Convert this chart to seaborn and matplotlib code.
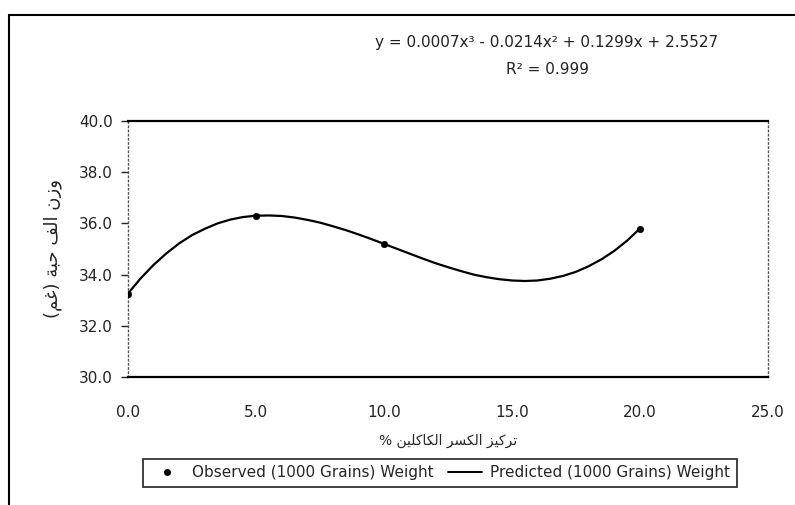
import matplotlib
matplotlib.use("Agg")
import matplotlib.pyplot as plt
import seaborn as sns
import pandas as pd
from matplotlib.lines import Line2D

# ---- data ----
x_obs = [0, 5, 10, 20]
y_obs = [33.26, 36.30, 35.20, 35.80]
x_pred = [0, 0.5, 1, 1.5, 2, 2.5, 3, 3.5, 4, 4.5, 5, 5.5, 6, 6.5, 7, 7.5, 8, 8.5, 9, 9.5,
          10, 10.5, 11, 11.5, 12, 12.5, 13, 13.5, 14, 14.5, 15, 15.5, 16, 16.5, 17, 17.5,
          18, 18.5, 19, 19.5, 20]
y_pred = [33.26, 33.86, 34.38, 34.83, 35.22, 35.54, 35.79, 36.00, 36.15, 36.25, 36.30, 36.31,
          36.29, 36.23, 36.14, 36.03, 35.89, 35.74, 35.57, 35.39, 35.20, 35.01, 34.82, 34.63,
          34.45, 34.29, 34.14, 34.00, 33.90, 33.82, 33.77, 33.75, 33.77, 33.84, 33.95, 34.11,
          34.33, 34.60, 34.93, 35.33, 35.80]
x_ticks = [0, 5, 10, 15, 20, 25]
y_ticks = [30, 32, 34, 36, 38, 40]
equation = "y = 0.0007x\u00b3 - 0.0214x\u00b2 + 0.1299x + 2.5527"
r2_text = "R\u00b2 = 0.999"
x_label_ar = "تركيز الكسر الكاكلين %"
y_label_ar = "وزن الف حبة (غم)"
obs_label = "Observed (1000 Grains) Weight"
pred_label = "Predicted (1000 Grains) Weight"

# ---- minimal Arabic shaping (presentation forms, visual order) ----
FORMS = {
    'ا': (0xFE8D, 0xFE8E, None, None), 'ب': (0xFE8F, 0xFE90, 0xFE91, 0xFE92),
    'ة': (0xFE93, 0xFE94, None, None), 'ت': (0xFE95, 0xFE96, 0xFE97, 0xFE98),
    'ح': (0xFEA1, 0xFEA2, 0xFEA3, 0xFEA4), 'د': (0xFEA9, 0xFEAA, None, None),
    'ر': (0xFEAD, 0xFEAE, None, None), 'ز': (0xFEAF, 0xFEB0, None, None),
    'س': (0xFEB1, 0xFEB2, 0xFEB3, 0xFEB4), 'غ': (0xFECD, 0xFECE, 0xFECF, 0xFED0),
    'ف': (0xFED1, 0xFED2, 0xFED3, 0xFED4), 'ك': (0xFED9, 0xFEDA, 0xFEDB, 0xFEDC),
    'ل': (0xFEDD, 0xFEDE, 0xFEDF, 0xFEE0), 'م': (0xFEE1, 0xFEE2, 0xFEE3, 0xFEE4),
    'ن': (0xFEE5, 0xFEE6, 0xFEE7, 0xFEE8), 'و': (0xFEED, 0xFEEE, None, None),
    'ي': (0xFEF1, 0xFEF2, 0xFEF3, 0xFEF4),
}


def shape(s):
    ch = list(s)
    n = len(ch)
    res = []
    i = 0
    while i < n:
        c = ch[i]
        if c not in FORMS:
            res.append(c)
            i += 1
            continue
        prev = ch[i - 1] if i > 0 else None
        jp = prev in FORMS and FORMS[prev][2] is not None
        if c == 'ل' and i + 1 < n and ch[i + 1] == 'ا':
            res.append(chr(0xFEFC if jp else 0xFEFB))
            i += 2
            continue
        nxt = ch[i + 1] if i + 1 < n else None
        iso, fin, ini, med = FORMS[c]
        jn = ini is not None and nxt in FORMS
        if jp and jn:
            g = med
        elif jp:
            g = fin
        elif jn:
            g = ini
        else:
            g = iso
        res.append(chr(g))
        i += 1
    vis = ''.join(reversed(res))
    mirror = {'(': ')', ')': '('}
    return ''.join(mirror.get(c, c) for c in vis)


sns.set_theme(style="white")
plt.rcParams['font.family'] = ['DejaVu Sans']

fig = plt.figure(figsize=(7.95, 5.05), dpi=100)
ax = fig.add_axes([128 / 795, 1 - 377 / 505, (768 - 128) / 795, (377 - 121) / 505])

df_pred = pd.DataFrame({"x": x_pred, "y": y_pred})
df_obs = pd.DataFrame({"x": x_obs, "y": y_obs})
sns.lineplot(data=df_pred, x="x", y="y", ax=ax, color="black", linewidth=1.6)
sns.scatterplot(data=df_obs, x="x", y="y", ax=ax, color="black", s=22, edgecolor="black", zorder=3)

ax.set_xlim(0, 25)
ax.set_ylim(30, 40)
ax.set_xticks(x_ticks)
ax.set_xticklabels([f"{v:.1f}" for v in x_ticks], fontsize=11)
ax.set_yticks(y_ticks)
ax.set_yticklabels([f"{v:.1f}" for v in y_ticks], fontsize=11)
ax.tick_params(axis="x", length=0, pad=20, colors="#222222")
ax.tick_params(axis="y", length=5, width=1, pad=6, colors="#222222", left=True)
ax.grid(False)
for side in ["top", "bottom"]:
    ax.spines[side].set_color("black")
    ax.spines[side].set_linewidth(1.6)
for side in ["left", "right"]:
    ax.spines[side].set_color("#555555")
    ax.spines[side].set_linewidth(1.0)
    ax.spines[side].set_linestyle((0, (1, 2)))

ax.set_xlabel(shape(x_label_ar), fontsize=10, labelpad=10)
ax.set_ylabel(shape(y_label_ar), fontsize=13, labelpad=12)

fig.text(547 / 795, 1 - 42 / 505, equation, ha="center", va="center", fontsize=11, color="#222222")
fig.text(547 / 795, 1 - 70 / 505, r2_text, ha="center", va="center", fontsize=11, color="#222222")

handles = [
    Line2D([], [], marker="o", color="black", linestyle="none", markersize=4),
    Line2D([], [], color="black", linewidth=1.4),
]
leg = fig.legend(handles, [obs_label, pred_label], loc="center",
                 bbox_to_anchor=(440 / 795, 1 - 473 / 505), ncol=2, fontsize=11,
                 frameon=True, fancybox=False, edgecolor="black", handlelength=2.2,
                 columnspacing=1.0, borderpad=0.45, handletextpad=0.5)
leg.get_frame().set_linewidth(1.3)

# outer chart frame
fig.add_artist(Line2D([9 / 795, 9 / 795], [0, 1 - 15 / 505], transform=fig.transFigure,
                      color="black", linewidth=1.5))
fig.add_artist(Line2D([9 / 795, 1.0], [1 - 15 / 505, 1 - 15 / 505], transform=fig.transFigure,
                      color="black", linewidth=1.5))

fig.savefig("out.png", dpi=100)
